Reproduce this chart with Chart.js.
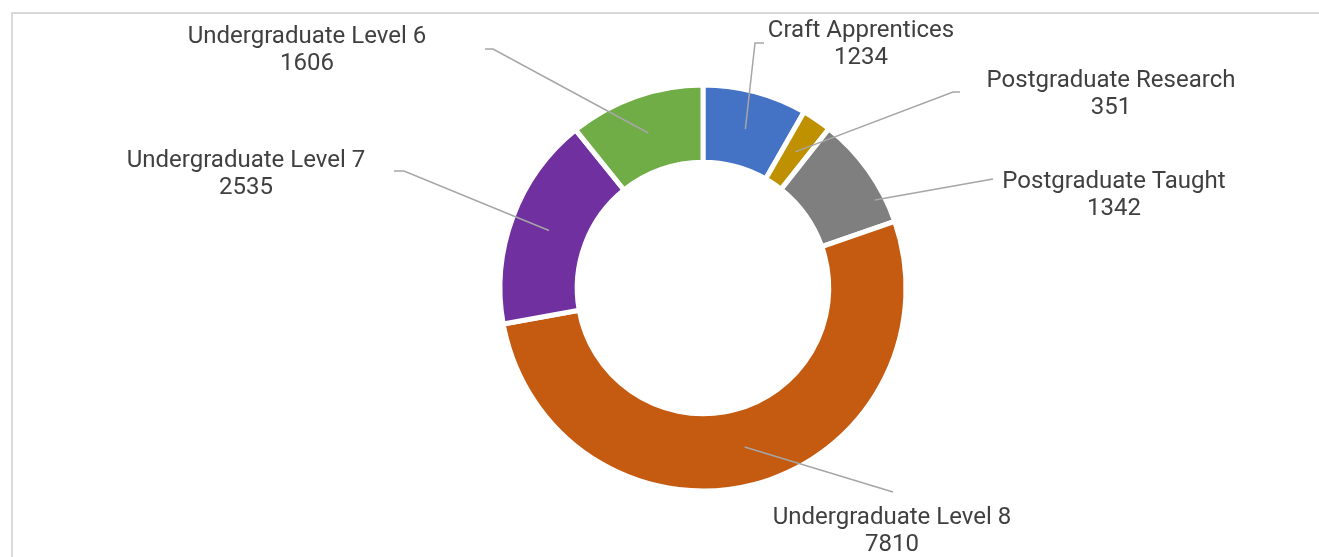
<!DOCTYPE html>
<html>
<head>
<meta charset="utf-8">
<script src="https://cdn.jsdelivr.net/npm/chart.js@4/dist/chart.umd.min.js"></script>
<style>
  html, body { margin:0; padding:0; background:#fff; }
  #wrap { position:relative; width:1319px; height:557px; overflow:hidden; }
  #frame { position:absolute; left:11px; top:12px; width:1400px; height:700px;
           border-top:2px solid #d9d9d9; border-left:2px solid #d9d9d9; }
  canvas { position:absolute; left:0; top:0; }
</style>
</head>
<body>
<div id="wrap">
  <div id="frame"></div>
  <canvas id="c" width="1319" height="557"></canvas>
</div>
<script>
// ── Data ─────────────────────────────────────────────
const categories = ["Craft Apprentices", "Postgraduate Research", "Postgraduate Taught",
                    "Undergraduate Level 8", "Undergraduate Level 7", "Undergraduate Level 6"];
const values     = [1234, 351, 1342, 7810, 2535, 1606];
const colours    = ["#4472C4", "#BF9000", "#7F7F7F", "#C55A11", "#7030A0", "#70AD47"];

// ── Label layout: text centre (x, first line y), leader elbow, leader end ──
const labelLayout = [
  { tx: 861,  ty: 30,  elbow: [755, 43],  end: [764, 43] },
  { tx: 1111, ty: 80,  elbow: [953, 92],  end: [960, 92] },
  { tx: 1114, ty: 181, elbow: null,       end: [993, 179] },
  { tx: 892,  ty: 517, elbow: null,       end: [893, 492] },
  { tx: 246,  ty: 160, elbow: [404, 171], end: [394, 171] },
  { tx: 307,  ty: 36,  elbow: [493, 49],  end: [485, 49] },
];
// leader start tweak for the grey slice (angle shift in rad, radius)
const leaderTweak = [null, null, { da: 0.145, r: 193 }, null, null, null];

const calloutPlugin = {
  id: "callouts",
  afterDatasetsDraw(chart) {
    const ctx = chart.ctx;
    const arcs = chart.getDatasetMeta(0).data;
    ctx.save();
    arcs.forEach((arc, i) => {
      const p = arc.getProps(["x", "y", "startAngle", "endAngle", "innerRadius", "outerRadius"], true);
      let a = (p.startAngle + p.endAngle) / 2;
      let r = (p.innerRadius + p.outerRadius) / 2;
      if (leaderTweak[i]) { a += leaderTweak[i].da; r = leaderTweak[i].r; }
      const L = labelLayout[i];
      ctx.strokeStyle = "#a6a6a6";
      ctx.lineWidth = 1.5;
      ctx.beginPath();
      ctx.moveTo(p.x + Math.cos(a) * r, p.y + Math.sin(a) * r);
      if (L.elbow) ctx.lineTo(L.elbow[0], L.elbow[1]);
      ctx.lineTo(L.end[0], L.end[1]);
      ctx.stroke();

      ctx.fillStyle = "#404040";
      ctx.font = "24px Roboto, 'Liberation Sans', sans-serif";
      ctx.textAlign = "center";
      ctx.textBaseline = "middle";
      ctx.fillText(categories[i], L.tx, L.ty + 1);
      ctx.fillText(String(values[i]), L.tx, L.ty + 28);
    });
    ctx.restore();
  }
};

new Chart(document.getElementById("c").getContext("2d"), {
  type: "doughnut",
  data: {
    labels: categories,
    datasets: [{
      data: values,
      backgroundColor: colours,
      borderColor: "#ffffff",
      borderWidth: 5,
      hoverOffset: 0
    }]
  },
  options: {
    responsive: false,
    animation: false,
    radius: 203,
    cutout: 123,
    layout: { padding: { top: 87, bottom: 68, left: 303, right: 216 } },
    plugins: { legend: { display: false }, tooltip: { enabled: false } }
  },
  plugins: [calloutPlugin]
});
</script>
</body>
</html>
